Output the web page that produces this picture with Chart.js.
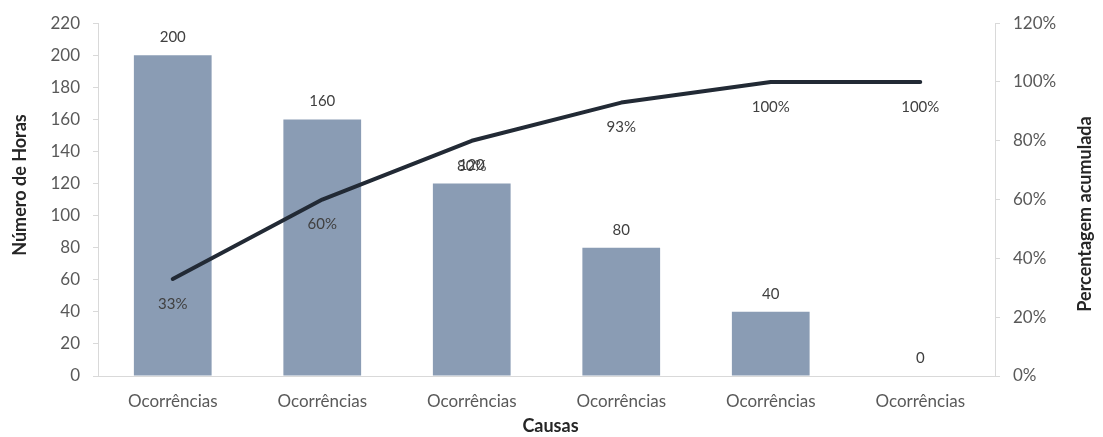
<!DOCTYPE html>
<html>
<head>
<meta charset="utf-8">
<script src="https://cdn.jsdelivr.net/npm/chart.js@4.4.1/dist/chart.umd.min.js"></script>
<style>
  html, body { margin: 0; padding: 0; background: #ffffff; }
  canvas { display: block; }
</style>
</head>
<body>
<canvas id="pareto" width="1103" height="437"></canvas>
<script>
// Pareto data: hours per cause and cumulative share
const categories = ['Ocorrências', 'Ocorrências', 'Ocorrências', 'Ocorrências', 'Ocorrências', 'Ocorrências'];
const horas = [200, 160, 120, 80, 40, 0];
const acumulado = [33, 60, 80, 93, 100, 100];
const horasAxis = [0, 220, 20];       // min, max, step
const percentAxis = [0, 120, 20];     // min, max, step

const titles = {
  x: 'Causas',
  left: 'Número de Horas',
  right: 'Percentagem acumulada'
};

const FONT = 'Lato, "Open Sans", sans-serif';
Chart.defaults.font.family = FONT;

// Value labels: above bars, below line points
const valueLabels = {
  id: 'valueLabels',
  afterDatasetsDraw(chart) {
    const ctx = chart.ctx;
    ctx.save();
    ctx.font = '15px ' + FONT;
    ctx.fillStyle = '#404040';
    ctx.textAlign = 'center';
    ctx.textBaseline = 'middle';
    chart.data.datasets.forEach((ds, i) => {
      const meta = chart.getDatasetMeta(i);
      meta.data.forEach((el, j) => {
        const v = ds.data[j];
        if (ds.type === 'line') {
          ctx.fillText(v + '%', el.x, el.y + 25);
        } else {
          ctx.fillText(String(v), el.x, el.y - 18);
        }
      });
    });
    ctx.restore();
  }
};

// Axis titles (both vertical titles read bottom-to-top)
const axisTitles = {
  id: 'axisTitles',
  afterDraw(chart) {
    const ctx = chart.ctx;
    const area = chart.chartArea;
    ctx.save();
    ctx.font = 'bold 18px ' + FONT;
    ctx.fillStyle = '#262626';
    ctx.textAlign = 'center';
    ctx.textBaseline = 'middle';
    ctx.fillText(titles.x, (area.left + area.right) / 2 + 4, 426);

    ctx.save();
    ctx.translate(20, 185);
    ctx.rotate(-Math.PI / 2);
    ctx.fillText(titles.left, 0, 0);
    ctx.restore();

    ctx.save();
    ctx.translate(1085, 214);
    ctx.rotate(-Math.PI / 2);
    ctx.fillText(titles.right, 0, 0);
    ctx.restore();
    ctx.restore();
  }
};

const axisLine = '#d9d9d9';
const tickColor = '#595959';

new Chart(document.getElementById('pareto'), {
  data: {
    labels: categories,
    datasets: [
      {
        type: 'line',
        data: acumulado,
        yAxisID: 'y1',
        borderColor: '#222a35',
        borderWidth: 4,
        borderCapStyle: 'round',
        borderJoinStyle: 'round',
        pointRadius: 0,
        tension: 0,
        fill: false,
        order: 0
      },
      {
        type: 'bar',
        data: horas,
        yAxisID: 'y',
        backgroundColor: '#8a9cb4',
        barPercentage: 0.52,
        categoryPercentage: 1.0,
        order: 1
      }
    ]
  },
  options: {
    responsive: false,
    animation: false,
    devicePixelRatio: 1,
    layout: { padding: { top: 22, left: 0, right: 0, bottom: 0 } },
    plugins: {
      legend: { display: false },
      tooltip: { enabled: false }
    },
    scales: {
      x: {
        offset: true,
        grid: { display: false, drawTicks: false },
        border: { display: true, color: axisLine, width: 1 },
        ticks: { color: tickColor, font: { size: 17 }, padding: 15, maxRotation: 0, autoSkip: false },
        afterFit(s) { s.height = 61; }
      },
      y: {
        position: 'left',
        min: horasAxis[0],
        max: horasAxis[1],
        grid: { display: true, drawOnChartArea: false, drawTicks: true, tickLength: 5, color: axisLine },
        border: { display: true, color: axisLine, width: 1 },
        ticks: { stepSize: horasAxis[2], color: tickColor, font: { size: 17 }, padding: 13 },
        afterFit(s) { s.width = 98; }
      },
      y1: {
        position: 'right',
        min: percentAxis[0],
        max: percentAxis[1],
        grid: { display: true, drawOnChartArea: false, drawTicks: true, tickLength: 5, color: axisLine },
        border: { display: true, color: axisLine, width: 1 },
        ticks: { stepSize: percentAxis[2], color: tickColor, font: { size: 17 }, padding: 13, callback: v => v + '%' },
        afterFit(s) { s.width = 108; }
      }
    }
  },
  plugins: [valueLabels, axisTitles]
});
</script>
</body>
</html>
